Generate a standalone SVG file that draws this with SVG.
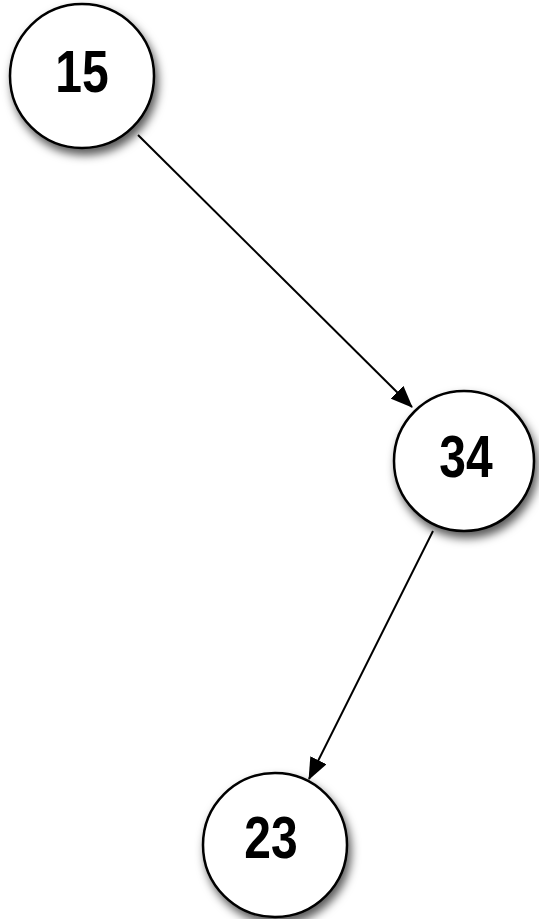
<svg xmlns="http://www.w3.org/2000/svg" width="539" height="919" viewBox="0 0 539 919">
<defs>
<filter id="sh" x="-30%" y="-30%" width="160%" height="160%">
<feDropShadow dx="3" dy="6" stdDeviation="5" flood-color="#000" flood-opacity="0.65"/>
</filter>
<marker id="ah" markerWidth="22" markerHeight="18" refX="21" refY="9" orient="auto" markerUnits="userSpaceOnUse" viewBox="0 0 22 18">
<path d="M0,0 L22,9 L0,18 Z" fill="#000"/>
</marker>
</defs>
<style>
.n{fill:#fff;stroke:#000;stroke-width:2.5;filter:url(#sh)}
.t{font-family:"Liberation Sans",Arial,sans-serif;font-weight:bold;font-size:48px;text-anchor:middle;fill:#000}
.e{stroke:#000;stroke-width:2;fill:none;marker-end:url(#ah)}
</style>
<rect width="539" height="919" fill="#fff"/>
<g id="connectors">
<line class="e" x1="138" y1="135" x2="412" y2="407"/>
<line class="e" x1="433" y1="531" x2="309" y2="779"/>
</g>
<g id="n15">
<circle class="n" cx="82" cy="76" r="72"/>
<g transform="translate(82,92) scale(1,1.22)"><text class="t" x="0" y="0">15</text></g>
</g>
<g id="n34">
<circle class="n" cx="464" cy="461" r="70"/>
<g transform="translate(466,477) scale(1,1.22)"><text class="t" x="0" y="0">34</text></g>
</g>
<g id="n23">
<circle class="n" cx="275" cy="845" r="72"/>
<g transform="translate(271,858) scale(1,1.22)"><text class="t" x="0" y="0">23</text></g>
</g>
</svg>
